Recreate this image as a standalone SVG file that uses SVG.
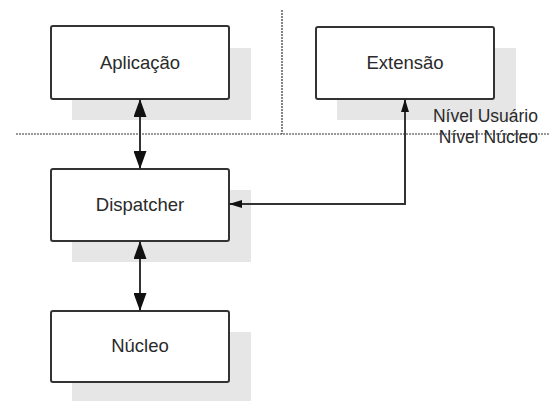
<svg xmlns="http://www.w3.org/2000/svg" width="549" height="401" viewBox="0 0 549 401">
<style>
.shadow{fill:#e6e6e6;stroke:none}
.box{fill:#fff;stroke:#333;stroke-width:2}
.lbl{font-family:"Liberation Sans",Arial,sans-serif;font-size:18.5px;fill:#2a2a2a;text-anchor:middle}
.lvl{font-family:"Liberation Sans",Arial,sans-serif;font-size:17.5px;fill:#2a2a2a;text-anchor:end}
.sep{stroke:#333;stroke-width:1.2;stroke-dasharray:2,1;fill:none}
.conn{stroke:#333;stroke-width:2;fill:none}
</style>
<defs>
<marker id="big" markerUnits="userSpaceOnUse" markerWidth="18" markerHeight="13" refX="17" refY="6.5" orient="auto-start-reverse" viewBox="0 0 18 13">
<path d="M0,0 L18,6.5 L0,13 z" fill="#111"/>
</marker>
<marker id="small" markerUnits="userSpaceOnUse" markerWidth="13" markerHeight="8" refX="12" refY="4" orient="auto-start-reverse" viewBox="0 0 13 8">
<path d="M0,0 L13,4 L0,8 z" fill="#111"/>
</marker>
</defs>
<rect width="549" height="401" fill="#fff"/>
<g id="separators">
<line class="sep" x1="16" y1="134" x2="549" y2="134"/>
<line class="sep" x1="282" y1="10" x2="282" y2="134"/>
</g>
<g id="aplicacao">
<rect class="shadow" x="72" y="48" width="179" height="72"/>
<rect class="box" x="51" y="26" width="178" height="73" rx="2"/>
<text class="lbl" x="140" y="69">Aplicação</text>
</g>
<g id="extensao">
<rect class="shadow" x="337" y="48" width="179" height="72"/>
<rect class="box" x="316" y="27" width="178" height="72" rx="2"/>
<text class="lbl" x="405" y="69">Extensão</text>
</g>
<g id="dispatcher">
<rect class="shadow" x="72" y="190" width="179" height="72"/>
<rect class="box" x="51" y="169" width="178" height="72" rx="2"/>
<text class="lbl" x="140" y="211">Dispatcher</text>
</g>
<g id="nucleo">
<rect class="shadow" x="72" y="332" width="179" height="72"/>
<rect class="box" x="51" y="311" width="178" height="71" rx="2"/>
<text class="lbl" x="140" y="352">Núcleo</text>
</g>
<g id="levels">
<text class="lvl" x="538" y="122">Nível Usuário</text>
<text class="lvl" x="538" y="143">Nível Núcleo</text>
</g>
<g id="connectors">
<line class="conn" x1="140" y1="100" x2="140" y2="168" marker-start="url(#big)" marker-end="url(#big)"/>
<line class="conn" x1="140" y1="242" x2="140" y2="310" marker-start="url(#big)" marker-end="url(#big)"/>
<polyline class="conn" points="405,100 405,204 230,204" marker-start="url(#small)" marker-end="url(#small)"/>
</g>
</svg>
